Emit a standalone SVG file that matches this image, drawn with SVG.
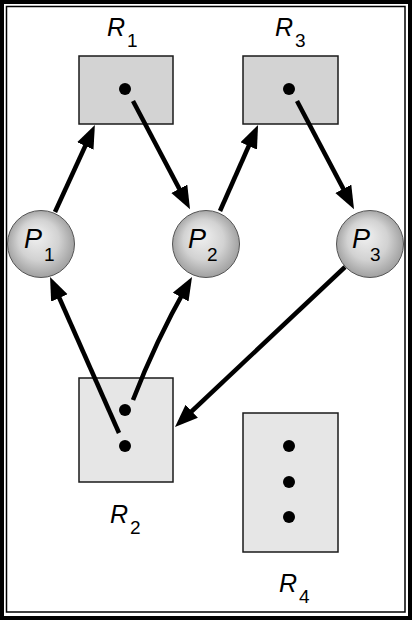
<svg xmlns="http://www.w3.org/2000/svg" width="412" height="620" viewBox="0 0 412 620">
<style>
.frame{fill:none;stroke:#000}
.res1{fill:#d3d3d3;stroke:#1a1a1a;stroke-width:1.5}
.res2{fill:#e6e6e6;stroke:#1a1a1a;stroke-width:1.5}
.proc{fill:url(#pg);stroke:#555;stroke-width:1}
.dot{fill:#000}
.edge{fill:none;stroke:#000;stroke-width:4.5;marker-end:url(#ah)}
.lbl{font-family:"Liberation Sans",Arial,sans-serif;font-style:italic;fill:#000}
.sub{font-family:"Liberation Sans",Arial,sans-serif;fill:#000}
</style>
<defs>
<radialGradient id="pg" cx="0.5" cy="0.5" r="0.55" fx="0.42" fy="0.36">
<stop offset="0" stop-color="#f2f2f2"/>
<stop offset="0.55" stop-color="#d2d2d2"/>
<stop offset="1" stop-color="#979797"/>
</radialGradient>
<marker id="ah" markerUnits="userSpaceOnUse" markerWidth="26" markerHeight="20" refX="12" refY="9" orient="auto" viewBox="0 0 26 20">
<path d="M0,0 L23,9 L0,18 z" fill="#000"/>
</marker>
</defs>
<rect x="0" y="0" width="412" height="620" fill="#fff"/>
<rect class="frame" x="2" y="2" width="408" height="616" stroke-width="4"/>
<rect class="frame" x="6.5" y="6.5" width="398.5" height="605.5" stroke-width="1.5"/>

<g id="R1">
<rect class="res1" x="79" y="56" width="94" height="68"/>
<circle class="dot" cx="125" cy="89" r="6"/>
<text class="lbl" x="107" y="36" font-size="25">R</text><text class="sub" x="127" y="47" font-size="19">1</text>
</g>
<g id="R3">
<rect class="res1" x="243" y="56" width="95" height="68"/>
<circle class="dot" cx="289" cy="89" r="6"/>
<text class="lbl" x="275" y="36" font-size="25">R</text><text class="sub" x="295" y="47" font-size="19">3</text>
</g>
<g id="R2">
<rect class="res2" x="79" y="378" width="94" height="104"/>
<circle class="dot" cx="125" cy="410" r="6"/>
<circle class="dot" cx="125" cy="446" r="6"/>
<text class="lbl" x="110" y="523" font-size="25">R</text><text class="sub" x="130" y="534" font-size="19">2</text>
</g>
<g id="R4">
<rect class="res2" x="243" y="413" width="95" height="139"/>
<circle class="dot" cx="289" cy="446" r="6"/>
<circle class="dot" cx="289" cy="482" r="6"/>
<circle class="dot" cx="289" cy="517" r="6"/>
<text class="lbl" x="279" y="592" font-size="25">R</text><text class="sub" x="299" y="603" font-size="19">4</text>
</g>
<g id="P1">
<circle class="proc" cx="41" cy="244" r="33.5"/>
<text class="lbl" x="24" y="248" font-size="27">P</text><text class="sub" x="44" y="261" font-size="19">1</text>
</g>
<g id="P2">
<circle class="proc" cx="206" cy="244" r="33.5"/>
<text class="lbl" x="188" y="248" font-size="27">P</text><text class="sub" x="207" y="261" font-size="19">2</text>
</g>
<g id="P3">
<circle class="proc" cx="370" cy="244" r="33.5"/>
<text class="lbl" x="352" y="248" font-size="27">P</text><text class="sub" x="370" y="261" font-size="19">3</text>
</g>

<g id="connectors">
<path class="edge" d="M55,212 L90.3,135"/>
<path class="edge" d="M133,101 L184.9,199.4"/>
<path class="edge" d="M220,211 L253.6,135"/>
<path class="edge" d="M297,101 L348.9,199.4"/>
<path class="edge" d="M119,433 L54.5,287"/>
<path class="edge" d="M133,400 Q155.5,341.5 186.6,286.6"/>
<path class="edge" d="M345,267 L183,419.5"/>
</g>
</svg>
